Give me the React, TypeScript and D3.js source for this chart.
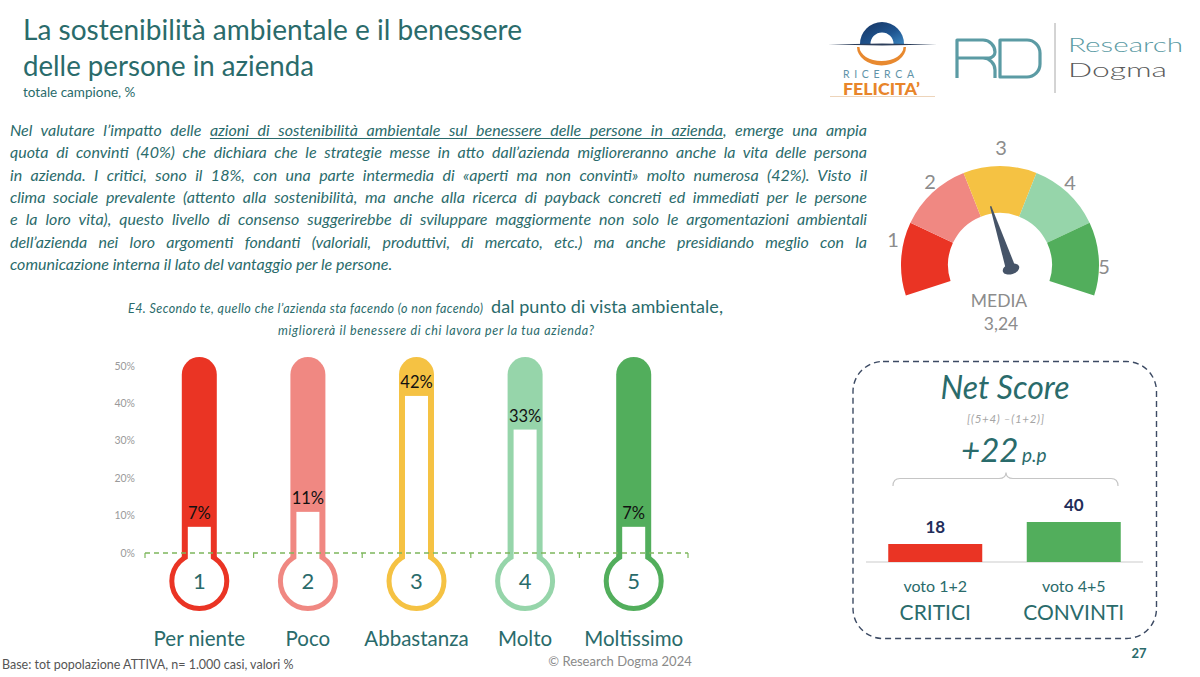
import React, { useEffect, useRef } from 'react';
import * as d3 from 'd3';

// ---------- DATA ----------
const categories = ['Per niente', 'Poco', 'Abbastanza', 'Molto', 'Moltissimo'];
const scaleCodes = ['1', '2', '3', '4', '5'];
const values = [7, 11, 42, 33, 7];
const yTicks = [0, 10, 20, 30, 40, 50];
const palette = ['#EA3424', '#F08882', '#F5C243', '#96D5AA', '#52AE5C'];

const gaugeLabels = ['1', '2', '3', '4', '5'];
const gaugeMeanLabel = '3,24';

const netGroups = ['voto 1+2', 'voto 4+5'];
const netNames = ['CRITICI', 'CONVINTI'];
const netValues = [18, 40];
const netColors = ['#EA3424', '#52AE5C'];
const netScoreLabel = '+22';

const paragraphLines = [
  'quota di convinti (40%) che dichiara che le strategie messe in atto dall’azienda miglioreranno anche la vita delle persona',
  'in azienda. I critici, sono il 18%, con una parte intermedia di «aperti ma non convinti» molto numerosa (42%). Visto il',
  'clima sociale prevalente (attento alla sostenibilità, ma anche alla ricerca di payback concreti ed immediati per le persone',
  'e la loro vita), questo livello di consenso suggerirebbe di sviluppare maggiormente non solo le argomentazioni ambientali',
  'dell’azienda nei loro argomenti fondanti (valoriali, produttivi, di mercato, etc.) ma anche presidiando meglio con la',
];
const paragraphFirst = ['Nel valutare l’impatto delle ', 'azioni di sostenibilità  ambientale sul benessere delle persone in azienda', ', emerge una ampia'];
const paragraphLast = 'comunicazione interna il lato del vantaggio per le persone.';

// ---------- STYLE ----------
const FONT = "Lato, 'Open Sans', sans-serif";
const TEAL = '#2A6B6B';
const GRAY = '#8C8C8C';
const NAVY = '#1F2D5A';
const PARA_X = 10;
const PARA_W = 857;

export default function App() {
  const svgRef = useRef<SVGSVGElement>(null);

  useEffect(() => {
    document.body.style.margin = '0';
    const svgEl = svgRef.current;
    if (!svgEl) return;
    const svg = d3.select(svgEl);
    // justify lines via word-spacing
    svg.selectAll<SVGTextElement, unknown>('text.just').each(function () {
      const t = this;
      t.setAttribute('word-spacing', '0');
      const w = t.getComputedTextLength();
      const txt = (t.textContent || '').replace(/\s+/g, ' ').trim();
      const spaces = (txt.match(/ /g) || []).length;
      if (spaces > 0) t.setAttribute('word-spacing', String((PARA_W - w) / spaces));
    });
    // underline
    const u = svgEl.querySelector('#ulspan') as any;
    if (u && u.getBBox) {
      const bb = u.getBBox();
      svg.select('#ulline')
        .attr('x1', bb.x).attr('x2', bb.x + bb.width)
        .attr('y1', 138.5).attr('y2', 138.5);
    }
  }, []);

  // thermometer scales
  const x = d3.scaleBand<string>().domain(categories).range([145, 688]);
  const y = d3.scaleLinear().domain([0, 50]).range([553, 366]);
  const tubeTop = 357;
  const tubeHalf = 17.5;
  const innerHalf = 11.5;
  const bulbCy = 581;
  const bulbR = 27.5;

  // gauge
  const gcx = 1000, gcy = 265;
  const deg = Math.PI / 180;
  const gAngle = d3.scaleLinear().domain([0.5, 5.5]).range([-108 * deg, 108 * deg]);
  const arc = d3.arc<any>().innerRadius(52).outerRadius(99);
  const gaugeLabelPos = [
    [893, 240], [930, 182], [1001, 148], [1070, 183], [1104, 267],
  ];
  const needleAngle = -18;

  // net score scales
  const xN = d3.scalePoint<string>().domain(netGroups).range([866, 1143]).padding(0.5);
  const yN = d3.scaleLinear().domain([0, 40]).range([562, 522]);
  const barW = 94;

  const tubePath = (cx: number) =>
    `M${cx - tubeHalf},557 V${tubeTop + tubeHalf} A${tubeHalf},${tubeHalf} 0 0 1 ${cx + tubeHalf},${tubeTop + tubeHalf} V557 Z`;

  return (
    <svg ref={svgRef} width={1200} height={677} viewBox="0 0 1200 677"
      style={{ position: 'absolute', left: 0, top: 0, background: '#fff', fontFamily: FONT }}>
      <defs>
        <linearGradient id="dome" x1="0" y1="0" x2="1" y2="1">
          <stop offset="0" stopColor="#16325F" />
          <stop offset="0.6" stopColor="#1F5590" />
          <stop offset="1" stopColor="#3B86C0" />
        </linearGradient>
      </defs>

      {/* Title */}
      <text x={23} y={40} fontSize={28} fill={TEAL} textLength={499} lengthAdjust="spacingAndGlyphs">La sostenibilità ambientale  e il benessere</text>
      <text x={23} y={76} fontSize={28} fill={TEAL} textLength={291} lengthAdjust="spacingAndGlyphs">delle persone in azienda</text>
      <text x={23} y={97} fontSize={13.5} fill={TEAL}>totale campione, %</text>

      {/* Ricerca Felicità logo */}
      <g>
        <path d={`M860,44 A22,22 0 0 1 904,44 L893.5,44 A11.5,11.5 0 0 0 870.5,44 Z`} fill="url(#dome)" />
        <path d="M828,44.6 L882,43.6 L937,44.6 L882,45.6 Z" fill="#2C3E5A" />
        <path d="M857,47 A24.5,18.5 0 0 0 906,47 L903.5,47 A22,14 0 0 1 859.5,47 Z" fill="#E8892F" />
        <text x={878.5} y={77.5} fontSize={10.5} fill="#5E93A8" textAnchor="middle" textLength={71} lengthAdjust="spacing">RICERCA</text>
        <text x={881.5} y={95} fontSize={16.5} fontWeight={900} fill="#E8852A" textAnchor="middle" textLength={77} lengthAdjust="spacingAndGlyphs">FELICITA’</text>
        <line x1={830} x2={935} y1={96.5} y2={96.5} stroke="#E8C9A8" strokeWidth={0.8} />
      </g>

      {/* Research Dogma logo */}
      <g fill="none" stroke="#5B9BA4" strokeWidth={3.2} strokeLinejoin="round">
        <path d="M957,78 V40 H983 A12,12 0 0 1 995,52 A6,6 0 0 1 989,58 H957 M975,58 H983 A12,12 0 0 1 995,70 V78" />
        <path d="M1000,40 V77 H1027 A13,13 0 0 0 1040,64 V53 A13,13 0 0 0 1027,40 Z" />
      </g>
      <line x1={1055} x2={1055} y1={23} y2={93} stroke="#A8A8A8" strokeWidth={1} />
      <text x={1068} y={52} fontSize={19} fontWeight={300} fill="#5B9BA4" textLength={115} lengthAdjust="spacingAndGlyphs">Research</text>
      <text x={1068} y={77} fontSize={19} fontWeight={300} fill="#5A5A5A" textLength={99} lengthAdjust="spacingAndGlyphs">Dogma</text>

      {/* Paragraph */}
      <g fontSize={16} fontStyle="italic" fill={TEAL}>
        <text className="just" x={PARA_X} y={136}>
          <tspan>{paragraphFirst[0]}</tspan>
          <tspan id="ulspan">{paragraphFirst[1]}</tspan>
          <tspan>{paragraphFirst[2]}</tspan>
        </text>
        <line id="ulline" x1={212} x2={720} y1={138.5} y2={138.5} stroke={TEAL} strokeWidth={1} />
        {paragraphLines.map((l, i) => (
          <text key={i} className="just" x={PARA_X} y={158.3 + i * 22.3}>{l}</text>
        ))}
        <text x={PARA_X} y={158.3 + paragraphLines.length * 22.3}>{paragraphLast}</text>
      </g>

      {/* Question */}
      <text x={128} y={313} fontSize={12.5} fontStyle="italic" fill={TEAL} textLength={355} lengthAdjust="spacing">E4. Secondo te, quello che l’azienda sta facendo (o non facendo)</text>
      <text x={491} y={313} fontSize={18} fill={TEAL} textLength={232} lengthAdjust="spacing">dal punto di vista ambientale,</text>
      <text x={278} y={335} fontSize={12.5} fontStyle="italic" fill={TEAL} textLength={316} lengthAdjust="spacing">migliorerà il benessere di chi lavora per la tua azienda?</text>

      {/* Y axis labels */}
      {yTicks.map(t => (
        <text key={t} x={135} y={y(t)} dy="0.35em" fontSize={10.5} fill="#9A9A9A" textAnchor="end">{t}%</text>
      ))}

      {/* Thermometers */}
      {categories.map((c, i) => {
        const cx = (x(c) as number) + x.bandwidth() / 2;
        const v = values[i];
        return (
          <g key={c}>
            <path d={tubePath(cx)} fill={palette[i]} />
            <circle cx={cx} cy={bulbCy} r={bulbR} fill="#fff" stroke={palette[i]} strokeWidth={5} />
            <rect x={cx - innerHalf} y={y(v)} width={innerHalf * 2} height={559 - y(v)} fill="#fff" />
            <text x={cx} y={y(v) - 8} fontSize={16.5} fill="#111" textAnchor="middle">{v}%</text>
            <text x={cx} y={bulbCy + 8} fontSize={22} fill={TEAL} textAnchor="middle">{scaleCodes[i]}</text>
            <text x={cx} y={646} fontSize={20.5} fill={TEAL} textAnchor="middle">{c}</text>
          </g>
        );
      })}
      {/* baseline */}
      <line x1={145} x2={688} y1={y(0)} y2={y(0)} stroke="#7DB75C" strokeWidth={1.3} strokeDasharray="5 4" />
      {[...categories.map(c => x(c) as number), 688].map((bx, i) => (
        <line key={i} x1={bx} x2={bx} y1={y(0)} y2={y(0) + 5} stroke="#7DB75C" strokeWidth={1.2} />
      ))}

      {/* Gauge */}
      <g transform={`translate(${gcx},${gcy})`}>
        {gaugeLabels.map((g, i) => (
          <path key={g} d={arc({ startAngle: gAngle(i + 0.5), endAngle: gAngle(i + 1.5) }) as string} fill={palette[i]} />
        ))}
      </g>
      {gaugeLabels.map((g, i) => (
        <text key={g} x={gaugeLabelPos[i][0]} y={gaugeLabelPos[i][1]} dy="0.36em" fontSize={20} fill={GRAY} textAnchor="middle">{g}</text>
      ))}
      <g transform={`translate(1011,269) rotate(${needleAngle})`} fill="#465468">
        <path d="M-5,0 L-0.7,-66 L0.7,-66 L5,0 Z" />
        <ellipse cx={0} cy={0} rx={8.5} ry={5.2} />
      </g>
      <text x={999} y={307} fontSize={17.5} fill={GRAY} textAnchor="middle">MEDIA</text>
      <text x={1001} y={330} fontSize={17.5} fill={GRAY} textAnchor="middle">{gaugeMeanLabel}</text>

      {/* Net Score box */}
      <rect x={853} y={361.5} width={303.5} height={277} rx={30} ry={30} fill="none" stroke="#3C4A63" strokeWidth={1.4} strokeDasharray="6 4" />
      <text x={1005} y={399} fontSize={32} fontStyle="italic" fill={TEAL} textAnchor="middle">Net Score</text>
      <text x={1005.5} y={423} fontSize={11.5} fontStyle="italic" fill="#A5A5A5" textAnchor="middle" textLength={77} lengthAdjust="spacing">[(5+4) –(1+2)]</text>
      <text x={961} y={462} fontSize={33} fontStyle="italic" fill={TEAL}>{netScoreLabel}</text>
      <text x={1022} y={462} fontSize={19} fontStyle="italic" fill={TEAL}>p.p</text>
      <path d="M893,486 Q893,478.5 900,478.5 H999 Q1006,478.5 1006,472.5 Q1006,478.5 1013,478.5 H1111 Q1118,478.5 1118,486"
        fill="none" stroke="#C5C5C5" strokeWidth={1.2} />
      <line x1={866} x2={1143} y1={yN(0)} y2={yN(0)} stroke="#DCDCDC" strokeWidth={1.5} />
      {netGroups.map((g, i) => {
        const cx = xN(g) as number;
        return (
          <g key={g}>
            <rect x={cx - barW / 2} y={yN(netValues[i])} width={barW} height={yN(0) - yN(netValues[i])} fill={netColors[i]} />
            <text x={cx} y={yN(netValues[i]) - 11} fontSize={17} fontWeight={700} fill={NAVY} textAnchor="middle">{netValues[i]}</text>
            <text x={cx} y={592} fontSize={16} fill={TEAL} textAnchor="middle">{g}</text>
            <text x={cx} y={620} fontSize={21} fill={TEAL} textAnchor="middle">{netNames[i]}</text>
          </g>
        );
      })}

      {/* Footer */}
      <text x={2} y={669} fontSize={12.5} fill="#555">Base: tot popolazione ATTIVA, n= 1.000 casi, valori %</text>
      <text x={620} y={666} fontSize={13} fill="#8A8A8A" textAnchor="middle">© Research Dogma 2024</text>
      <text x={1139} y={658} fontSize={13} fontWeight={700} fill={TEAL} textAnchor="middle">27</text>
    </svg>
  );
}
